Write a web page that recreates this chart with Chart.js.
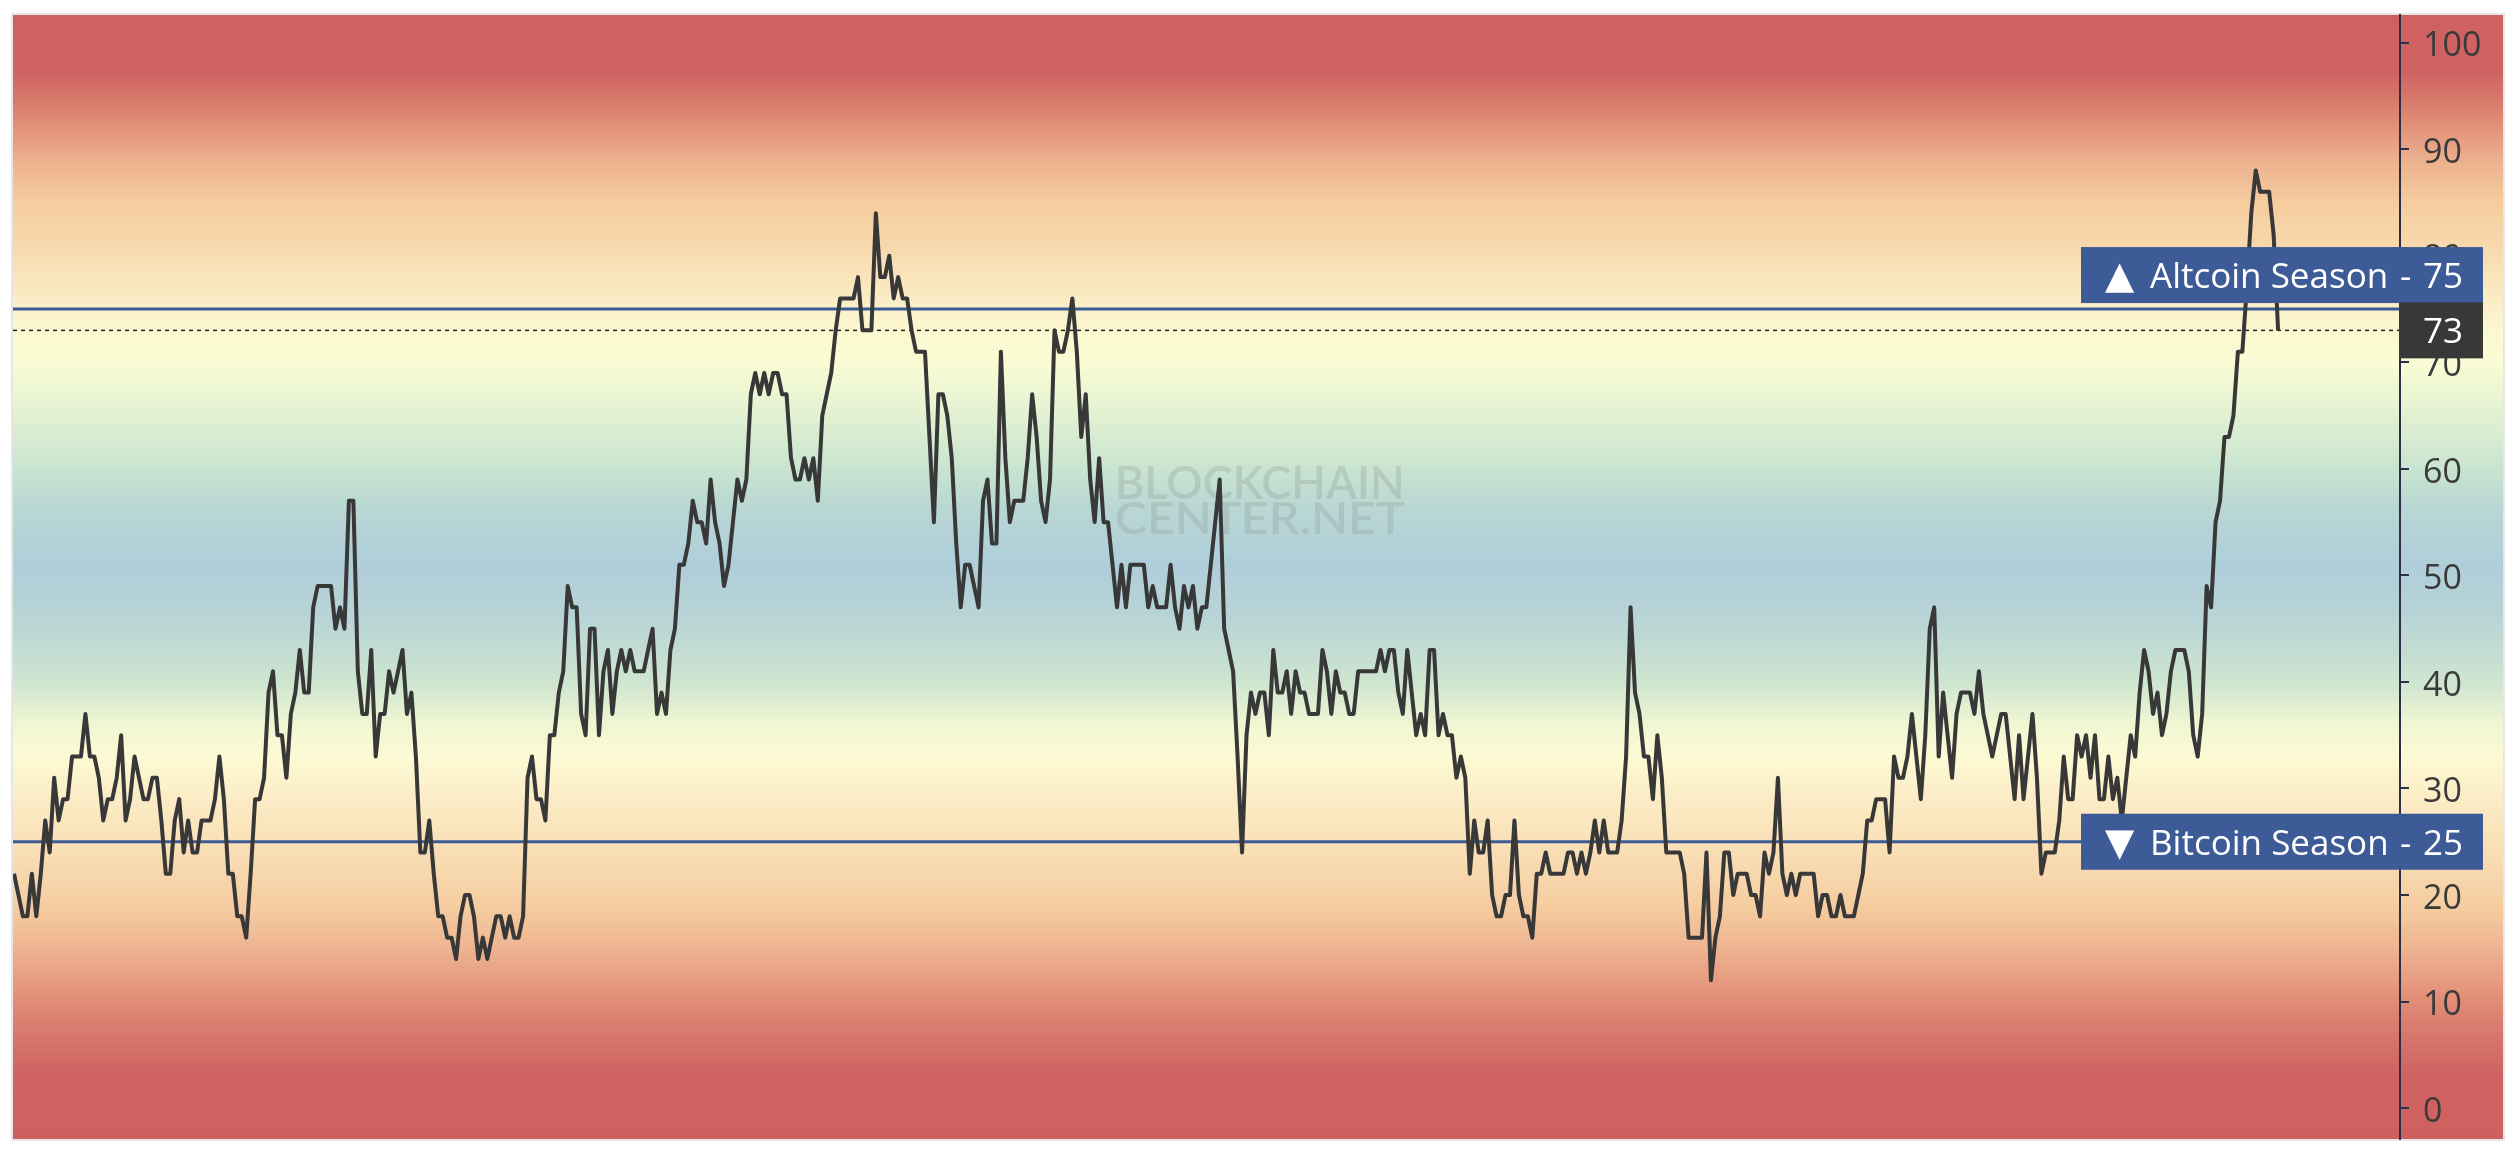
<!DOCTYPE html>
<html>
<head>
<meta charset="utf-8">
<style>
html,body{margin:0;padding:0;background:#fff;overflow:hidden}
#wrap{width:2514px;height:1154px;position:relative}
canvas{display:block}
</style>
<script src="https://cdn.jsdelivr.net/npm/chart.js@4.4.0/dist/chart.umd.min.js"></script>
</head>
<body>
<div id="wrap"><canvas id="c" width="2514" height="1154"></canvas></div>
<script>
// ---- data ----
const indexValues = [
  22,20,18,18,22,18,22,27,24,31,27,29,29,33,33,33,37,33,33,31,
  27,29,29,31,35,27,29,33,31,29,29,31,31,27,22,22,27,29,24,27,
  24,24,27,27,27,29,33,29,22,22,18,18,16,22,29,29,31,39,41,35,
  35,31,37,39,43,39,39,47,49,49,49,49,45,47,45,57,57,41,37,37,
  43,33,37,37,41,39,41,
  43,37,39,33,24,24,27,22,18,18,16,16,14,18,20,20,18,14,16,14,
  16,18,18,16,18,16,16,18,31,33,29,29,27,35,35,39,41,49,47,47,
  37,35,45,45,35,41,43,37,41,43,41,43,41,41,41,43,45,37,39,37,
  43,45,51,51,53,57,55,55,53,59,55,53,49,51,55,59,57,59,67,69,
  67,69,67,69,69,
  67,67,61,59,59,61,59,61,57,65,67,69,73,76,76,76,76,78,73,73,
  73,84,78,78,80,76,78,76,76,73,71,71,71,63,55,67,67,65,61,53,
  47,51,51,49,47,57,59,53,53,71,61,55,57,57,57,61,67,63,57,55,
  59,73,71,71,73,76,71,63,67,59,55,61,55,55,51,47,51,47,51,51,
  51,51,47,49,47,
  47,47,51,47,45,49,47,49,45,47,47,51,55,59,45,43,41,33,24,35,
  39,37,39,39,35,43,39,39,41,37,41,39,39,37,37,37,43,41,37,41,
  39,39,37,37,41,41,41,41,41,43,41,43,43,39,37,43,39,35,37,35,
  43,43,35,37,35,35,31,33,31,22,27,24,24,27,20,18,18,20,20,27,
  20,18,18,16,22,
  22,24,22,22,22,22,24,24,22,24,22,24,27,24,27,24,24,24,27,33,
  47,39,37,33,33,29,35,31,24,24,24,24,22,16,16,16,16,24,12,16,
  18,24,24,20,22,22,22,20,20,18,24,22,24,31,22,20,22,20,22,22,
  22,22,18,20,20,18,18,20,18,18,18,20,22,27,27,29,29,29,24,33,
  31,31,33,37,33,
  29,35,45,47,33,39,35,31,37,39,39,39,37,41,37,35,33,35,37,37,
  33,29,35,29,33,37,31,22,24,24,24,27,33,29,29,35,33,35,31,35,
  29,29,33,29,31,27,31,35,33,39,43,41,37,39,35,37,41,43,43,43,
  41,35,33,37,49,47,55,57,63,63,65,71,71,77,84,88,86,86,86,82,
  73
];
const yTickValues = [0,10,20,30,40,50,60,70,80,90,100];
const altcoinSeason = 75;
const bitcoinSeason = 25;
const currentValue = 73;
const altcoinText = 'Altcoin Season';
const bitcoinText = 'Bitcoin Season';
const watermarkLines = ['BLOCKCHAIN', 'CENTER.NET'];

// ---- styles ----
const LINE_COLOR = '#383838';
const BLUE = '#3d5b96';
const AXIS_COLOR = '#2c2f45';
const FONT = '"Open Sans", "DejaVu Sans", sans-serif';
const bgStops = [
  [-3,'rgb(207,96,96)'],[3,'rgb(207,98,98)'],[8,'rgb(218,125,112)'],[11,'rgb(228,148,122)'],
  [15,'rgb(238,180,145)'],[19,'rgb(245,205,160)'],[24,'rgb(249,222,181)'],[29,'rgb(251,236,197)'],
  [33,'rgb(252,250,212)'],[36,'rgb(240,246,210)'],[40,'rgb(206,229,208)'],[46,'rgb(184,212,214)'],
  [51,'rgb(176,206,218)'],[56,'rgb(184,214,212)'],[60,'rgb(200,228,208)'],[65,'rgb(226,241,210)'],
  [70,'rgb(250,252,212)'],[73,'rgb(252,248,208)'],[77,'rgb(250,232,192)'],[81,'rgb(247,216,172)'],
  [85,'rgb(245,205,158)'],[89,'rgb(236,176,142)'],[93,'rgb(222,136,116)'],[97,'rgb(208,100,98)'],
  [103,'rgb(207,96,96)']
];

const N = indexValues.length;
const xMin = -0.22;
const xMax = (N - 1) + 27.3;

const mainData = indexValues.map((v, i) => ({x: i, y: v}));
const hLine = v => [{x: xMin, y: v}, {x: xMax, y: v}];

const bgPlugin = {
  id: 'bg',
  beforeDraw(chart) {
    const {ctx, chartArea} = chart;
    const y = chart.scales.y;
    const top = chartArea.top, bottom = chartArea.bottom;
    const left = chartArea.left, right = y.right;
    ctx.save();
    ctx.fillStyle = '#e6e6e6';
    ctx.fillRect(left - 2, top - 2, right - left + 4, bottom - top + 4);
    const g = ctx.createLinearGradient(0, top, 0, bottom);
    for (const [v, c] of bgStops) {
      let p = (y.getPixelForValue(v) - top) / (bottom - top);
      p = Math.min(1, Math.max(0, p));
      g.addColorStop(p, c);
    }
    ctx.fillStyle = g;
    ctx.fillRect(left, top, right - left, bottom - top);
    ctx.restore();
  },
  beforeDatasetsDraw(chart) {
    const {ctx} = chart;
    const x = chart.scales.x, y = chart.scales.y;
    // watermark
    ctx.save();
    ctx.fillStyle = 'rgba(150,158,155,0.33)';
    const wx = x.getPixelForValue(246.5);
    const targetW = 290;
    ctx.font = '600 47px Lato, "Open Sans", sans-serif';
    ctx.textBaseline = 'alphabetic';
    const baselines = [y.getPixelForValue(57.2), y.getPixelForValue(53.9)];
    watermarkLines.forEach((t, i) => {
      const w = ctx.measureText(t).width;
      ctx.save();
      ctx.translate(wx, baselines[i]);
      ctx.scale(targetW / w, i === 0 ? 1 : 32 / 34);
      ctx.fillText(t, 0, 0);
      ctx.restore();
    });
    ctx.restore();
  },
  afterDraw(chart) {
    const {ctx, chartArea} = chart;
    const y = chart.scales.y;
    const axisX = chartArea.right;
    const boxL = axisX - 319, boxR = axisX + 83, boxH = 56;
    const labelX = axisX + 23;
    ctx.save();
    function drawBox(cy, fill) {
      ctx.fillStyle = fill;
      ctx.fillRect(boxL, cy - boxH / 2, boxR - boxL, boxH);
    }
    function drawLabel(cy, tri, text, val) {
      ctx.fillStyle = '#ffffff';
      ctx.textBaseline = 'alphabetic';
      ctx.textAlign = 'left';
      ctx.font = '38px "DejaVu Sans", sans-serif';
      ctx.fillText(tri, boxL + 24, cy + 13);
      ctx.font = '35px ' + FONT;
      ctx.fillText(text, boxL + 69, cy + 13);
      ctx.fillText('-', axisX, cy + 13);
      ctx.fillText(String(val), labelX, cy + 13);
    }
    // Altcoin season box (sits just above its line)
    const yAlt = y.getPixelForValue(altcoinSeason);
    const altCy = yAlt - 6 - boxH / 2;
    drawBox(altCy, BLUE);
    drawLabel(altCy, '\u25B2', altcoinText, altcoinSeason);
    // Bitcoin season box (centred on its line)
    const yBtc = y.getPixelForValue(bitcoinSeason);
    drawBox(yBtc, BLUE);
    drawLabel(yBtc, '\u25BC', bitcoinText, bitcoinSeason);
    // current value box
    const yCur = y.getPixelForValue(currentValue);
    ctx.fillStyle = '#383838';
    ctx.fillRect(axisX - 1, yCur - boxH / 2, boxR - axisX + 1, boxH);
    ctx.fillStyle = '#ffffff';
    ctx.font = '35px ' + FONT;
    ctx.textBaseline = 'alphabetic';
    ctx.fillText(String(currentValue), labelX, yCur + 13);
    ctx.restore();
  }
};

new Chart(document.getElementById('c'), {
  type: 'line',
  data: {
    datasets: [
      {data: mainData, borderColor: LINE_COLOR, borderWidth: 4, pointRadius: 0, tension: 0, fill: false, order: 0, borderJoinStyle: 'round', borderCapStyle: 'butt'},
      {data: hLine(altcoinSeason), borderColor: BLUE, borderWidth: 3, pointRadius: 0, fill: false, order: 2},
      {data: hLine(bitcoinSeason), borderColor: BLUE, borderWidth: 3, pointRadius: 0, fill: false, order: 2},
      {data: hLine(currentValue), borderColor: '#222222', borderWidth: 1.5, borderDash: [4, 4], pointRadius: 0, fill: false, order: 1}
    ]
  },
  options: {
    responsive: false,
    animation: false,
    devicePixelRatio: 1,
    parsing: false,
    normalized: true,
    events: [],
    layout: {padding: {left: 13, top: 15, right: 11, bottom: 15}},
    plugins: {legend: {display: false}, tooltip: {enabled: false}, title: {display: false}},
    scales: {
      x: {type: 'linear', min: xMin, max: xMax, display: false},
      y: {
        position: 'right',
        min: -2.9,
        max: 102.6,
        afterBuildTicks: s => { s.ticks = yTickValues.map(v => ({value: v})); },
        afterFit: s => { s.width = 103; s.paddingTop = 0; s.paddingBottom = 0; },
        grid: {drawOnChartArea: false, drawTicks: true, tickLength: 9, color: AXIS_COLOR, lineWidth: 2},
        border: {display: true, color: AXIS_COLOR, width: 2},
        ticks: {padding: 14, labelOffset: 4, color: '#3a3a3a', font: {family: FONT, size: 34}}
      }
    }
  },
  plugins: [bgPlugin]
});
</script>
</body>
</html>
